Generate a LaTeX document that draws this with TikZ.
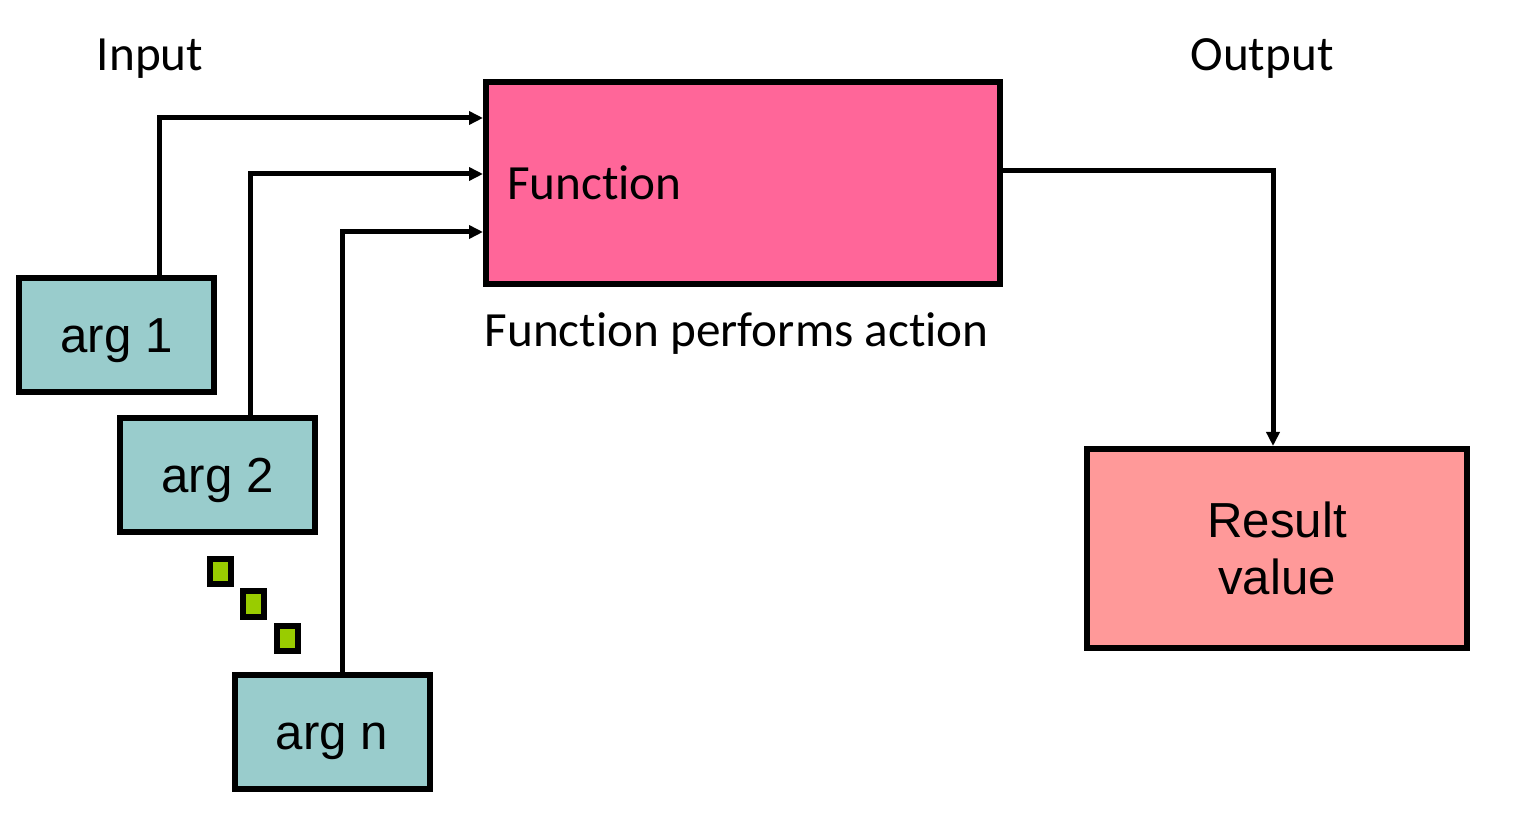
\documentclass[tikz,border=0pt]{standalone}
\usepackage{fontspec}
\setmainfont{Carlito}[Ligatures=NoCommon]
\newfontfamily\arialfont{Liberation Sans}
\usetikzlibrary{arrows.meta}
\definecolor{fnpink}{HTML}{FF6699}
\definecolor{argteal}{HTML}{99CCCC}
\definecolor{respink}{HTML}{FF9999}
\definecolor{dotgreen}{HTML}{99CC00}

\begin{document}
\begin{tikzpicture}[
  box/.style={draw=black, line width=0.06cm, inner sep=0pt,
    font=\arialfont\fontsize{14pt}{16.4pt}\selectfont},
  argbox/.style={box, fill=argteal, minimum width=1.95cm, minimum height=1.145cm,
    text height=10pt, text depth=0pt},
  dotbox/.style={draw=black, fill=dotgreen, line width=0.06cm, inner sep=0pt,
    minimum width=0.21cm, minimum height=0.25cm},
  flow/.style={draw=black, line width=0.05cm,
    -{Triangle[length=1.4mm, width=1.3mm]}},
  caption/.style={font=\fontsize{14pt}{16pt}\selectfont, anchor=base, inner sep=0pt},
]
\useasboundingbox (0,0) rectangle (15.19,-8.15);

\node[box, fill=fnpink, minimum height=2.02cm, inner sep=0.21cm,
  text width=4.72cm, align=left, font=\fontsize{14pt}{16pt}\selectfont]
  (fn) at (7.43,-1.83) {Function};
\node[argbox] (arg1) at (1.165,-3.35) {arg 1};
\node[argbox] (arg2) at (2.175,-4.75) {arg 2};
\node[argbox] (argn) at (3.32,-7.32) {arg n};
\node[box, fill=respink, minimum width=3.795cm, minimum height=1.99cm,
  align=center] (res) at (12.77,-5.485) {Result\\value};

\node[dotbox] (dot1) at (2.205,-5.715) {};
\node[dotbox] (dot2) at (2.53,-6.04) {};
\node[dotbox] (dot3) at (2.87,-6.38) {};

\node[caption] (inlabel)  at (1.50,-0.71) {Input};
\node[caption] (outlabel) at (12.62,-0.71) {Output};
\node[caption, anchor=base west] (action) at (4.84,-3.47) {Function performs action};

\draw[flow] ([xshift=0.425cm]arg1.north) |- ([yshift=-0.39cm]fn.north west);
\draw[flow] ([xshift=0.33cm]arg2.north)  |- ([yshift=-0.95cm]fn.north west);
\draw[flow] ([xshift=0.10cm]argn.north)  |- ([yshift=-1.53cm]fn.north west);
\draw[flow] ([yshift=0.12cm]fn.east) -| ([xshift=-0.04cm]res.north);
\end{tikzpicture}
\end{document}
